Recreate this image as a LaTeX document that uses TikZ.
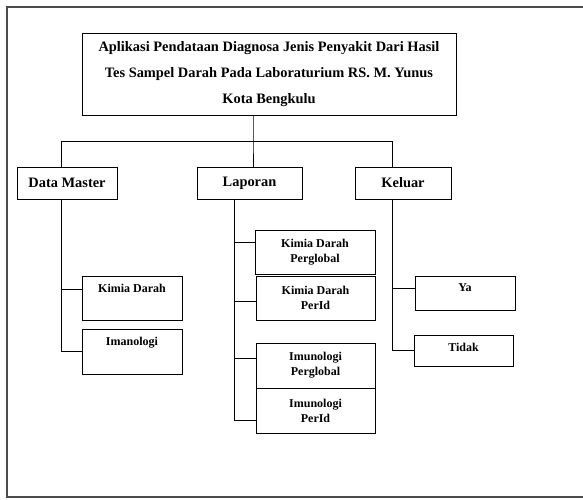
\documentclass[tikz,border=0pt]{standalone}
\usepackage{fontspec}
\setmainfont{Liberation Serif}
\tikzset{
  kotak/.style={draw, line width=0.9pt, align=center, inner sep=2pt},
  besar/.style={kotak, font=\fontsize{14.4}{26}\selectfont\bfseries},
  kecil/.style={kotak, font=\fontsize{12}{15}\selectfont\bfseries},
  garis/.style={line width=0.9pt}
}
\begin{document}
\begin{tikzpicture}[x=1pt,y=-1pt]
  \useasboundingbox (0,0) rectangle (583,499);
  % bingkai halaman
  \draw[black!70, line width=1.2pt] (583,7) -- (7,7) -- (7,497) -- (583,497);

  \node[besar, minimum width=374, minimum height=82] (judul) at (269,74)
    {Aplikasi Pendataan Diagnosa Jenis Penyakit Dari Hasil\\
     Tes Sampel Darah Pada Laboraturium RS. M. Yunus\\
     Kota Bengkulu};

  % menu utama
  \node[besar, minimum width=100, minimum height=32] (master) at (67,183) {Data Master};
  \node[besar, minimum width=105, minimum height=32] (laporan) at (249.5,183) {Laporan};
  \node[besar, minimum width=96, minimum height=32] (keluar) at (403,183) {Keluar};

  % sub menu
  \node[kecil, minimum width=100, minimum height=44, text depth=20pt] (kimia) at (132,298) {Kimia Darah};
  \node[kecil, minimum width=100, minimum height=45, text depth=20pt] (imano) at (132,351.5) {Imanologi};
  \node[kecil, minimum width=120, minimum height=44] (kdglobal) at (315,252) {Kimia Darah\\Perglobal};
  \node[kecil, minimum width=119, minimum height=44] (kdperid) at (315.5,298) {Kimia Darah\\PerId};
  \node[kecil, minimum width=119, minimum height=45] (imglobal) at (315.5,365.5) {Imunologi\\Perglobal};
  \node[kecil, minimum width=119, minimum height=45] (imperid) at (315.5,410.5) {Imunologi\\PerId};
  \node[kecil, minimum width=100, minimum height=34, text depth=10pt] (ya) at (465,293) {Ya};
  \node[kecil, minimum width=99, minimum height=31, text depth=7pt] (tidak) at (463.5,350.5) {Tidak};

  % garis penghubung
  \coordinate (cabang) at (253,141);
  \coordinate (hkiri) at (61,141);
  \coordinate (hkanan) at (392,141);
  \draw[garis] (judul.south -| cabang) -- (cabang) -- (laporan.north -| cabang);
  \draw[garis] (master.north -| hkiri) -- (hkiri) -- (hkanan) -- (keluar.north -| hkanan);

  \coordinate (tmaster) at (master.south -| hkiri);
  \coordinate (tlap) at ([xshift=-15.5pt]laporan.south);
  \coordinate (tkeluar) at (keluar.south -| hkanan);
  \draw[garis] (tmaster) |- (imano.west);
  \draw[garis] (tlap) |- ([yshift=-9.5pt]imperid.west);
  \draw[garis] (tkeluar) |- (tidak.west);
  \draw[garis] ([yshift=9pt]kimia.west) -- ([yshift=9pt]kimia.west -| tmaster);
  \draw[garis] ([yshift=5pt]ya.west) -- ([yshift=5pt]ya.west -| tkeluar);
  \foreach \n/\s in {kdglobal/10,kdperid/-3,imglobal/7.5}
    \draw[garis] ([yshift=\s pt]\n.west) -- ([yshift=\s pt]\n.west -| tlap);
\end{tikzpicture}
\end{document}
